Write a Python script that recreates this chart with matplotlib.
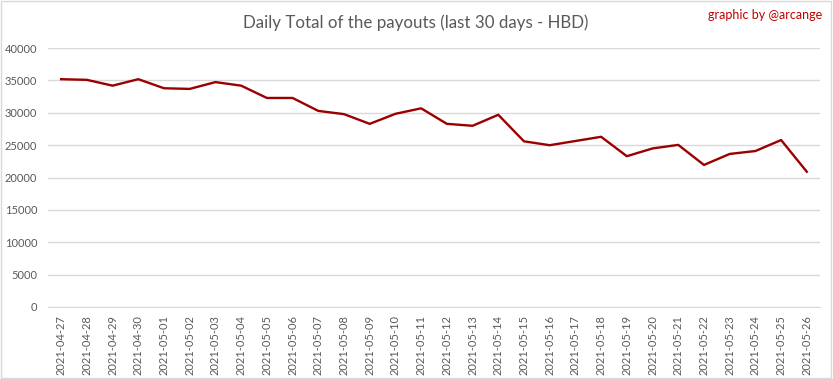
import matplotlib
matplotlib.use("Agg")
import matplotlib.pyplot as plt
from matplotlib.patches import Rectangle

# Daily payout totals (HBD)
dates = [
    "2021-04-27", "2021-04-28", "2021-04-29", "2021-04-30", "2021-05-01",
    "2021-05-02", "2021-05-03", "2021-05-04", "2021-05-05", "2021-05-06",
    "2021-05-07", "2021-05-08", "2021-05-09", "2021-05-10", "2021-05-11",
    "2021-05-12", "2021-05-13", "2021-05-14", "2021-05-15", "2021-05-16",
    "2021-05-17", "2021-05-18", "2021-05-19", "2021-05-20", "2021-05-21",
    "2021-05-22", "2021-05-23", "2021-05-24", "2021-05-25", "2021-05-26",
]
payouts = [
    35200, 35100, 34200, 35200, 33800,
    33700, 34750, 34200, 32300, 32300,
    30300, 29800, 28300, 29850, 30700,
    28300, 28000, 29700, 25600, 25000,
    25650, 26300, 23300, 24500, 25050,
    21950, 23650, 24100, 25800, 20900,
]
y_ticks = [0, 5000, 10000, 15000, 20000, 25000, 30000, 35000, 40000]

plt.rcParams['font.family'] = ['Lato', 'DejaVu Sans']

fig = plt.figure(figsize=(8.33, 3.79), dpi=100)
ax = fig.add_axes([0.058, 0.19, 0.926, 0.683])

x = list(range(len(dates)))
ax.plot(x, payouts, color='#9b0000', linewidth=1.7)

ax.set_xlim(-0.5, len(dates) - 0.5)
ax.set_ylim(0, 40000)
ax.set_yticks(y_ticks)
ax.set_yticklabels([str(v) for v in y_ticks])
ax.set_xticks(x)
ax.set_xticklabels(dates, rotation=90)

ax.grid(axis='y', color='#d9d9d9', linewidth=1)
ax.set_axisbelow(True)
for side in ['left', 'right', 'top']:
    ax.spines[side].set_visible(False)
ax.spines['bottom'].set_color('#d9d9d9')
ax.tick_params(axis='both', length=0, labelsize=8, labelcolor='#595959')
ax.tick_params(axis='y', pad=8)
ax.tick_params(axis='x', pad=6)

fig.text(0.499, 0.94, 'Daily Total of the payouts (last 30 days - HBD)',
         ha='center', va='center', fontsize=12.2, color='#595959')
fig.text(0.987, 0.96, 'graphic by @arcange', ha='right', va='center',
         fontsize=9, color='#c00000')

# light frame around the whole chart
fig.patches.append(Rectangle((0.001, 0.002), 0.997, 0.995, transform=fig.transFigure,
                             fill=False, edgecolor='#d9d9d9', linewidth=1))

fig.savefig('out.png', dpi=100)
